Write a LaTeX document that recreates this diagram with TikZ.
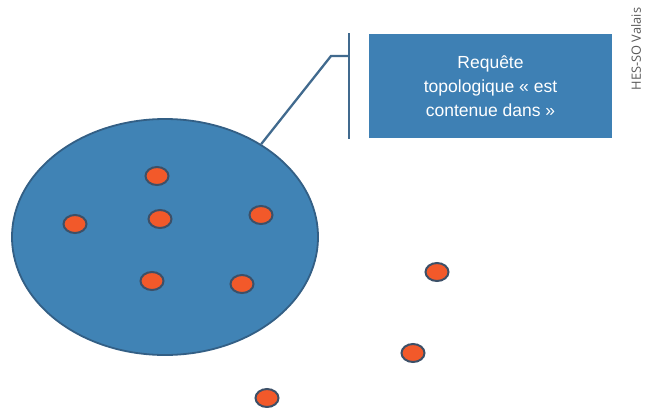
\documentclass[tikz,border=0pt]{standalone}
\usepackage{fontspec}
\setmainfont{Liberation Sans}
\newfontfamily\credfont{Open Sans}
\usetikzlibrary{positioning, shapes.geometric}
\definecolor{zoneblue}{HTML}{4083B5}
\definecolor{zoneedge}{HTML}{335F85}
\definecolor{boxblue}{HTML}{3E80B4}
\definecolor{ptfill}{HTML}{F2592A}
\definecolor{ptedge}{HTML}{3C5068}
\definecolor{leader}{HTML}{416A8E}

\begin{document}
\begin{tikzpicture}[x=1pt, y=-1pt,
                  zone/.style={ellipse, draw=zoneedge, line width=1.8pt, fill=zoneblue,
                              minimum width=306pt, minimum height=236pt, inner sep=0pt},
                  pt/.style={ellipse, draw=ptedge, line width=2pt, fill=ptfill,
                              minimum width=23pt, minimum height=18pt, inner sep=0pt},
                  query/.style={fill=boxblue, text=white, font=\fontsize{17.5}{24}\selectfont,
                              minimum width=243pt, minimum height=104pt, align=center, inner sep=0pt},
                  lead/.style={draw=leader, line width=2.3pt},
            ]
            \useasboundingbox (0,0) rectangle (652,407);

            % ---- search zone ----
            \node[zone] (Z) at (165,237) {};

            % ---- points ----
            \foreach \i/\px/\py in {
                        1/157/176, 2/160/219, 3/75/224, 4/261/215, 5/152/281,
                        6/242/284, 7/437/272, 8/413/353, 9/267/398}{
                        \node[pt] (P\i) at (\px,\py) {};
                  }

            % ---- query box and leader ----
            \node[query] (Q) at (490.5,86) {Requête\\topologique « est\\contenue dans »};
            \coordinate (BT) at (349,33);
            \coordinate (BB) at (349,139);
            \coordinate (BK) at (331,56);
            \draw[lead] (BT) -- (BB);
            \draw[lead] (Z.44) -- (BK) -- (BK -| BT);

            % ---- credit ----
            \node[font=\credfont\fontsize{12.8}{14}\selectfont, text=black!65, rotate=90] (C) at (636,49) {HES-SO Valais};

      \end{tikzpicture}
\end{document}
